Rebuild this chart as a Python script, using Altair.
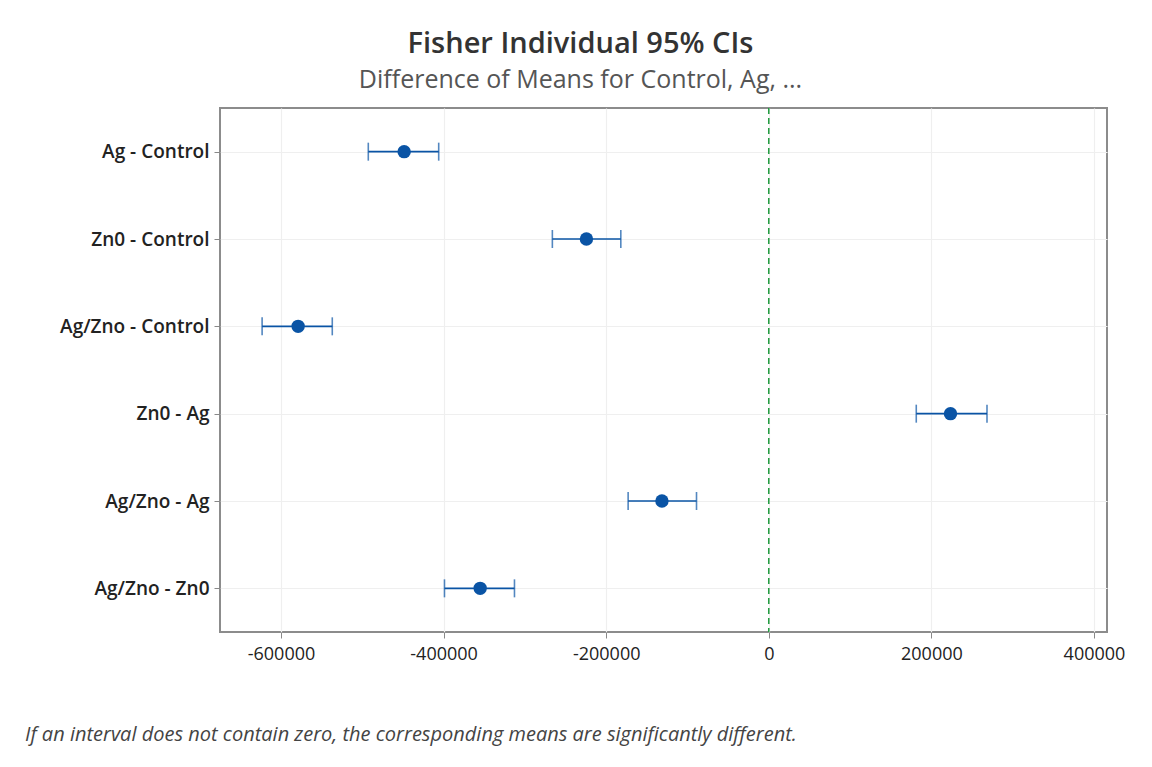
import altair as alt
import pandas as pd

comparisons = ["Ag - Control", "Zn0 - Control", "Ag/Zno - Control",
               "Zn0 - Ag", "Ag/Zno - Ag", "Ag/Zno - Zn0"]
centers = [-448500, -224300, -578900, 223500, -131400, -355000]
lowers = [-492600, -266200, -623200, 181400, -173000, -398900]
uppers = [-406000, -182000, -536900, 268400, -88900, -312800]
x_ticks = [-600000, -400000, -200000, 0, 200000, 400000]
footnote = ["If an interval does not contain zero, the corresponding means are significantly different."]

df = pd.DataFrame({"cmp": comparisons, "center": centers, "lower": lowers, "upper": uppers})

BLUE = "#0a54a5"
FONT = "Open Sans"

xscale = alt.Scale(domain=[-675000, 416000], nice=False, zero=False)
yscale = alt.Scale(type="point", padding=0.5)

x_axis = alt.Axis(values=x_ticks, title=None, labelExpr="toString(datum.value)",
                  labelFontSize=18, labelColor="#222", labelFont=FONT,
                  tickColor="#888", tickSize=6, labelPadding=7, domain=False,
                  grid=True, gridColor="#efefef", gridWidth=1.2)
y_axis = alt.Axis(title=None, labelFontSize=19, labelColor="#222", labelFont=FONT,
                  labelFontWeight=600, tickColor="#888", tickSize=6, labelPadding=5,
                  domain=False, grid=True, gridColor="#efefef", gridWidth=1.2)

base = alt.Chart(df)

rules = base.mark_rule(color=BLUE, strokeWidth=1.6).encode(
    x=alt.X("lower:Q", scale=xscale, axis=x_axis),
    x2="upper:Q",
    y=alt.Y("cmp:N", sort=comparisons, scale=yscale, axis=y_axis),
)
cap_lo = base.mark_tick(color=BLUE, thickness=1.6, size=18).encode(
    x=alt.X("lower:Q", scale=xscale),
    y=alt.Y("cmp:N", sort=comparisons, scale=yscale),
)
cap_hi = base.mark_tick(color=BLUE, thickness=1.6, size=18).encode(
    x=alt.X("upper:Q", scale=xscale),
    y=alt.Y("cmp:N", sort=comparisons, scale=yscale),
)
points = base.mark_point(filled=True, shape="circle", size=180, color=BLUE, opacity=1).encode(
    x=alt.X("center:Q", scale=xscale),
    y=alt.Y("cmp:N", sort=comparisons, scale=yscale),
)
zero = alt.Chart(pd.DataFrame({"z": [0]})).mark_rule(
    color="#1e9a3c", strokeDash=[6, 4], strokeWidth=1.5
).encode(x=alt.X("z:Q", scale=xscale))

note = alt.Chart(pd.DataFrame({"t": footnote})).mark_text(
    align="left", baseline="middle", fontStyle="italic", fontSize=20,
    color="#444", font=FONT
).encode(text="t:N", x=alt.value(-195), y=alt.value(627))

chart = alt.layer(rules, cap_lo, cap_hi, zero, points, note).properties(
    width=887,
    height=524,
    autosize=alt.AutoSizeParams(type="none"),
    padding={"left": 212, "top": 100, "right": 37, "bottom": 127},
    title=alt.TitleParams(
        text="Fisher Individual 95% CIs",
        subtitle="Difference of Means for Control, Ag, ...",
        anchor="middle", frame="group", dx=-83, offset=14,
        font=FONT, fontSize=29, fontWeight=600, color="#333",
        subtitleFont=FONT, subtitleFontSize=25, subtitleColor="#555",
        subtitlePadding=9,
    ),
).configure(
    background="white",
    view=alt.ViewConfig(stroke="#8c8c8c", strokeWidth=2),
)

chart.save("out.html", embed_options={"renderer": "svg", "actions": False})
